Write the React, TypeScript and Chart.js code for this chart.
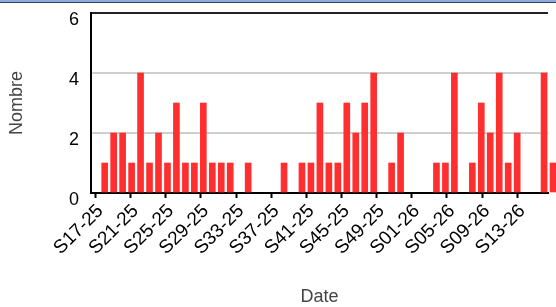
import React, { useEffect, useRef } from "react";
import { Chart, registerables } from "chart.js";

Chart.register(...registerables);

const weeks2025: number[] = [17, 18, 19, 20, 21, 22, 23, 24, 25, 26, 27, 28, 29, 30, 31, 32, 33, 34, 35, 36, 37, 38, 39, 40, 41, 42, 43, 44, 45, 46, 47, 48, 49, 50, 51, 52];
const weeks2026: number[] = [1, 2, 3, 4, 5, 6, 7, 8, 9, 10, 11, 12, 13, 14, 15, 16];

const pad2 = (n: number) => (n < 10 ? "0" + n : String(n));
const categories: string[] = [
  ...weeks2025.map((w) => `S${pad2(w)}-25`),
  ...weeks2026.map((w) => `S${pad2(w)}-26`),
];

const counts: number[] = [
  0, 1, 2, 2, 1, 4, 1, 2, 1, 3, 1, 1, 3, 1, 1, 1, 0, 1, 0, 0, 0, 1, 0, 1, 1, 3,
  1, 1, 3, 2, 3, 4, 0, 1, 2, 0, 0, 0, 1, 1, 4, 0, 1, 3, 2, 4, 1, 2, 0, 0, 4, 1,
];

const yTicks: number[] = [0, 2, 4, 6];

const FONT = "'Liberation Sans', Arial, Helvetica, sans-serif";

export default function App() {
  const ref = useRef<HTMLCanvasElement | null>(null);

  useEffect(() => {
    if (!ref.current) return;
    const chart = new Chart(ref.current, {
      type: "bar",
      data: {
        labels: categories,
        datasets: [
          {
            label: "Nombre",
            data: counts.map((v, i) => ({ x: i, y: v === 0 ? null : v })),
            xAxisID: "xb",
            yAxisID: "y",
            backgroundColor: "#ff2f2f",
            borderWidth: 0,
            barThickness: 6,
            clip: false as any,
          } as any,
        ],
      },
      options: {
        responsive: false,
        animation: false,
        layout: { padding: { left: 6, right: 8, top: 13, bottom: 0 } },
        plugins: { legend: { display: false }, tooltip: { enabled: false } },
        scales: {
          x: {
            type: "category",
            position: "bottom",
            offset: true,
            grid: {
              offset: false,
              drawOnChartArea: false,
              drawTicks: true,
              tickLength: 5,
              tickColor: "#000",
              tickWidth: 2,
            },
            border: { color: "#000", width: 2 },
            ticks: {
              autoSkip: false,
              maxRotation: 45,
              minRotation: 45,
              padding: 2,
              labelOffset: 5,
              color: "#000",
              font: { family: FONT, size: 19 },
            },
            afterBuildTicks: (scale: any) => {
              scale.ticks = scale.ticks.filter((_t: any, i: number) => i % 4 === 0);
            },
            afterCalculateLabelRotation: (scale: any) => {
              scale.labelRotation = 45;
            },
            afterFit: (scale: any) => {
              scale.height = 114;
              scale.paddingLeft = 0;
              scale.paddingRight = 0;
            },
            title: {
              display: true,
              text: "Date",
              color: "#444",
              font: { family: FONT, size: 18 },
              padding: { top: 0, bottom: -1 },
            },
          } as any,
          xb: {
            type: "linear",
            display: false,
            offset: false,
            min: -0.528,
            max: 50.44,
            grid: { offset: false },
          } as any,
          y: {
            type: "linear",
            min: 0,
            max: 6,
            afterBuildTicks: (scale: any) => {
              scale.ticks = yTicks.map((v) => ({ value: v }));
            },
            grid: {
              drawTicks: false,
              color: (ctx: any) =>
                ctx.tick && ctx.tick.value === 6
                  ? "#222"
                  : ctx.tick && ctx.tick.value === 0
                  ? "rgba(0,0,0,0)"
                  : "#cfcfcf",
              lineWidth: 2,
            },
            border: { color: "#000", width: 2 },
            ticks: {
              padding: 12,
              labelOffset: 7,
              color: "#000",
              font: { family: FONT, size: 18 },
            },
            afterFit: (scale: any) => {
              scale.width = 85;
              scale.paddingTop = 0;
              scale.paddingBottom = 0;
            },
            title: {
              display: true,
              text: "Nombre",
              color: "#444",
              font: { family: FONT, size: 18 },
              padding: { top: 0, bottom: 0 },
            },
          } as any,
        },
      },
    });
    return () => chart.destroy();
  }, []);

  return (
    <div
      style={{
        position: "fixed",
        left: 0,
        top: 0,
        width: 556,
        height: 307,
        background: "#fff",
        overflow: "hidden",
      }}
    >
      <canvas ref={ref} width={556} height={307} style={{ display: "block" }} />
      <div
        style={{
          position: "absolute",
          left: 0,
          top: 0,
          width: 556,
          height: 2,
          background: "#8eaadb",
          borderBottom: "1px solid #2a3f6a",
        }}
      />
    </div>
  );
}
